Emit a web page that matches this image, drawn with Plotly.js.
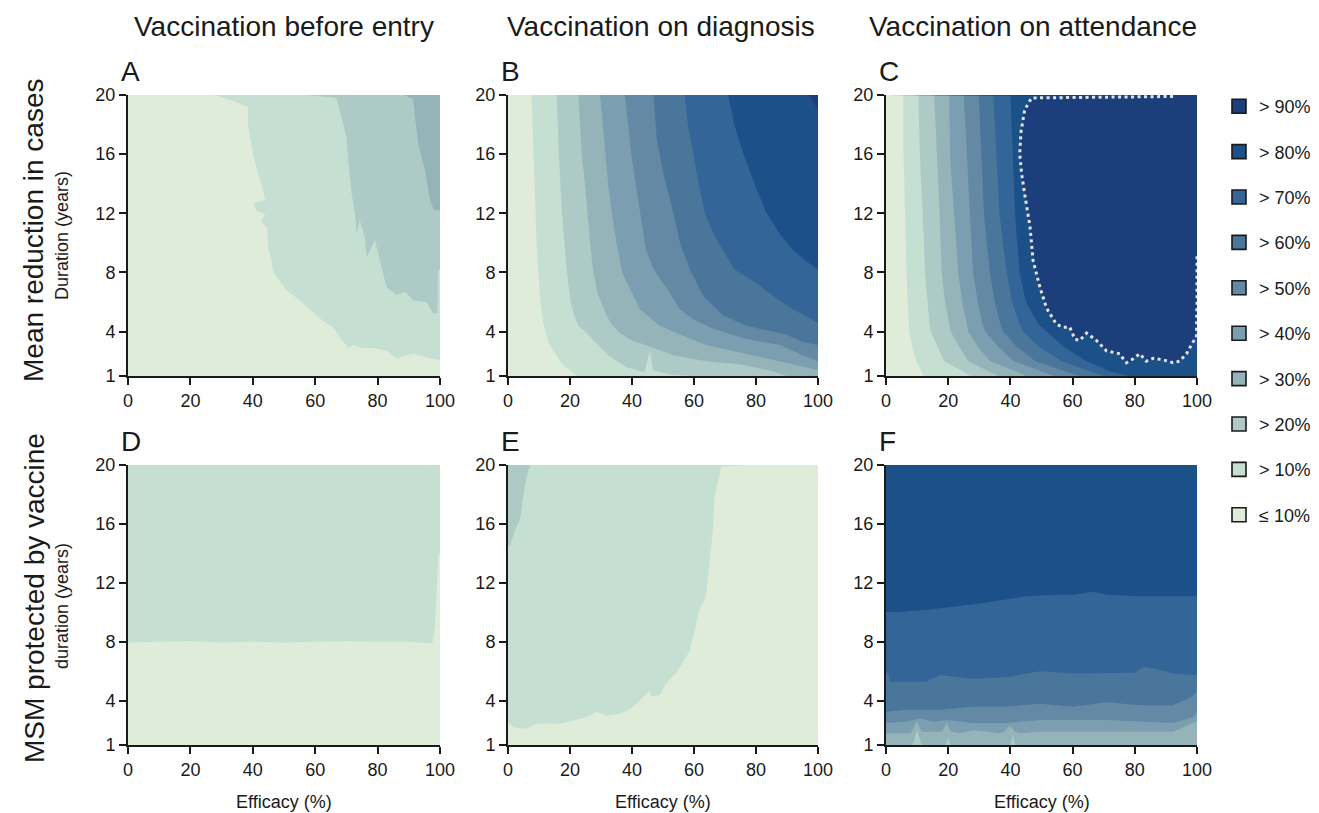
<!DOCTYPE html>
<html><head><meta charset="utf-8">
<script src="https://cdn.plot.ly/plotly-3.0.1.min.js"></script>
<style>html,body{margin:0;padding:0;background:#fff}#chart{width:1319px;height:813px}</style>
</head><body><div id="chart"></div>
<script>
// ---------- axes / labels ----------
const X_RANGE = [0, 100];
const Y_RANGE = [1, 20];
const EFF_TICKS = [0, 20, 40, 60, 80, 100];
const DUR_TICKS = [1, 4, 8, 12, 16, 20];
const COLUMN_TITLES = ['Vaccination before entry', 'Vaccination on diagnosis', 'Vaccination on attendance'];
const ROW_TITLES = ['Mean reduction in cases', 'MSM protected by vaccine'];
const DUR_TITLES = ['Duration (years)', 'duration (years)'];
const EFF_TITLE = 'Efficacy (%)';
const PANEL_LETTERS = ['A', 'B', 'C', 'D', 'E', 'F'];
const LEVEL_LABELS = ['≤ 10%', '> 10%', '> 20%', '> 30%', '> 40%', '> 50%', '> 60%', '> 70%', '> 80%', '> 90%'];
const LEVEL_COLORS = ['#deecd9', '#c6dfd3', '#adcac6', '#95b4ba', '#7b9fb0', '#6389a4', '#4b769b', '#336598', '#1c5089', '#1c3f7b'];

// ---------- panel A: contour boundaries (efficacy %, duration years) ----------
const A_levels = [10, 20, 30];
const A_eff = [
  [27.8, 33.7, 38.5, 38.5, 40.1, 41.7, 43.3, 43.9, 40.3, 41, 44, 42.5, 44.6, 44.9, 46, 46.5, 47.6, 50.8, 55.1, 58.8, 62.6, 65.8, 67.9, 70.6, 72.2, 75.4, 78.6, 82.9, 86.1, 91.4, 96.8, 100],
  [57.2, 63, 66.8, 68.4, 70, 70.6, 71.7, 72.7, 73.3, 74.3, 75.9, 76.5, 79.1, 80.7, 82.9, 86.1, 88.8, 91.4, 95.7, 97.9, 99.2, 99.4, 100],
  [88.5, 91.4, 92, 93, 95.2, 96.8, 98, 100]
];
const A_dur = [
  [20, 19.6, 19.2, 17.9, 16.0, 14.7, 13.6, 12.9, 12.7, 12.2, 11.9, 11.5, 11.0, 9.7, 8.8, 8.1, 7.7, 6.8, 6.1, 5.4, 4.7, 4.3, 3.6, 2.9, 3.1, 2.9, 2.9, 2.7, 2.2, 2.5, 2.2, 2.1],
  [20, 19.9, 19.8, 18.5, 17.2, 15.6, 13.3, 12.0, 10.6, 11.5, 10.4, 9.0, 10.2, 8.8, 7.0, 6.5, 6.7, 6.1, 6.0, 5.2, 5.3, 8.2, 8.2],
  [20, 19.7, 18.5, 16.7, 14.9, 12.9, 12.2, 12.2]
];

// ---------- panel B ----------
const B_levels = [10, 20, 30, 40, 50, 60, 70, 80, 90];
const B_eff = [
  [7.6, 7.9, 8.2, 8.5, 8.8, 9.2, 9.8, 10.5, 11.4, 13, 15.5, 18, 20, 22],
  [15.7, 16, 16.4, 16.9, 17.4, 18.2, 19, 20.2, 21.5, 22.7, 25, 28.6, 32.9, 38.3, 44, 45.8, 46.8, 52, 60],
  [22.7, 23.2, 23.8, 24.8, 25.6, 26.5, 27.5, 29, 31, 33, 36, 40, 43, 47, 53.3, 64, 74.7, 85.6, 90],
  [29.7, 30.5, 31.3, 32.3, 33.5, 35, 36.8, 39.5, 42.6, 49, 55.5, 64, 74.7, 83.3, 90.8, 100],
  [37.7, 38.8, 39.9, 41.5, 43.2, 44.5, 47, 51.3, 55.5, 60, 66.2, 76.9, 87.7, 95, 100],
  [46.9, 48, 50.1, 52.8, 55.5, 58.7, 63, 69.4, 76.9, 89.8, 95, 100],
  [57, 58, 59.8, 61.5, 63.5, 66.5, 69.4, 73, 80, 85.6, 92, 100],
  [71, 73, 76, 79.5, 83.4, 88, 92, 96, 100],
  [97, 98.5, 100]
];
const B_dur = [
  [20, 18, 16, 14, 12, 10, 8, 6, 4.6, 3.3, 2.4, 1.7, 1.4, 1.0],
  [20, 18, 16, 14, 12, 10, 8, 6, 5, 4.4, 4.0, 3.2, 2.3, 1.6, 1.25, 2.7, 1.4, 1.1, 1.0],
  [20, 18, 16, 14, 12, 10, 8, 6.5, 5.5, 4.6, 3.9, 3.4, 3.2, 2.9, 2.4, 2.0, 1.8, 1.3, 1.0],
  [20, 18, 16, 14, 12, 10, 8, 6.8, 5.5, 4.4, 3.8, 3.1, 2.6, 2.2, 1.8, 1.4],
  [20, 18, 15.8, 13.6, 11.3, 9.5, 8.2, 6.9, 5.5, 4.8, 4.2, 3.5, 3.1, 2.4, 2.0],
  [20, 17, 14.7, 12.5, 10, 8.2, 6.4, 5.1, 4.4, 3.8, 3.3, 3.1],
  [20, 18, 16, 14, 12, 10.5, 9.5, 8.2, 7.3, 6.4, 5.5, 4.6],
  [20, 18, 16, 14, 12, 10.5, 9.5, 8.8, 8.2],
  [20, 19.5, 19.0]
];

// ---------- panel C ----------
const C_levels = [10, 20, 30, 40, 50, 60, 70, 80, 90];
const C_band_dur = [20, 18, 16, 14, 12, 10, 8, 6, 4.5, 4, 3, 2, 1.3, 1];
const C_eff = [
  [5.6, 5.6, 5.6, 5.9, 6.1, 6.4, 6.6, 7.0, 7.3, 7.5, 8.5, 9.8, 11.5, 12],
  [10.4, 10.6, 10.9, 11.3, 11.8, 12.2, 12.5, 13.3, 14.0, 14.4, 16.5, 18.7, 24.8, 27],
  [15.5, 16, 16.3, 16.8, 17.2, 17.5, 17.9, 19, 20.2, 20.8, 23.5, 26.5, 33, 36],
  [20.3, 20.5, 20.6, 21.2, 21.8, 22.5, 23.2, 24.5, 26, 26.5, 29.5, 33.5, 42, 45],
  [25, 25.5, 25.9, 26.3, 26.8, 27.4, 28, 29.5, 31, 32, 36, 41, 50, 54],
  [29.8, 30.2, 30.7, 31.1, 31.5, 32.4, 33.4, 35, 36.8, 37.7, 42, 48, 58, 62],
  [34.5, 35, 35.5, 36, 36.5, 37.6, 38.8, 40.5, 43, 44.2, 49, 56.5, 66, 70],
  [40, 40.4, 40.9, 41.2, 41.5, 42.2, 43, 45, 49, 51.7, 57, 64.5, 72, 78]
];
// >90% region, outlined by the dotted line
const C_top_eff = [92.3, 46.8, 44.6, 43.4, 43, 43.6, 44.6, 46.3, 47.3, 49.5, 51.6, 54.8, 57, 59.1, 60.7, 62.3, 64.5, 67.7, 70.9, 75.2, 76.2, 77.3, 79, 81.6, 83.7, 85.9, 89, 92.3, 94.4, 96.6, 98.7, 99.8, 100, 100];
const C_top_dur = [19.9, 19.8, 19, 17.5, 16, 14.7, 13.3, 11.1, 8.8, 7.0, 5.6, 4.5, 4.3, 4.3, 3.5, 3.4, 3.9, 3.4, 2.7, 2.5, 2.2, 1.9, 2.1, 2.5, 2.0, 2.2, 2.1, 1.9, 2.0, 2.5, 3.3, 3.6, 6, 9.1];

// ---------- panel D ----------
const D_levels = [10];
const D_eff = [[0, 10, 20, 30, 40, 50, 60, 70, 80, 90, 97.5, 98.4, 98.9, 99.5, 100]];
const D_dur = [[7.95, 8.0, 8.05, 7.95, 8.0, 7.95, 8.0, 8.05, 8.0, 8.0, 7.9, 9.0, 11.5, 14.0, 14.0]];

// ---------- panel E ----------
const E_levels = [10, 20];
const E_eff = [
  [0, 0.6, 1.7, 6, 9.2, 12.4, 16.7, 19.9, 25.3, 28.5, 31.8, 36, 39.3, 42.5, 45.7, 46.2, 48.9, 51.1, 54.3, 56.4, 58.6, 60.2, 61.8, 63.9, 65, 66.1, 66.6, 68.2, 68.8, 78],
  [0, 0.6, 2.3, 3.9, 4.9, 6, 7.1]
];
const E_dur = [
  [2.5, 2.45, 2.2, 2.1, 2.45, 2.45, 2.45, 2.6, 2.9, 3.25, 3.0, 3.1, 3.45, 4.0, 4.7, 4.3, 4.4, 5.2, 5.9, 6.6, 7.4, 8.8, 10.2, 11.1, 13.3, 15.6, 17.9, 19.4, 19.9, 20],
  [14.6, 14.5, 15.6, 16.3, 17.9, 19.2, 20]
];

// ---------- panel F ----------
const F_levels = [20, 30, 40, 50, 60, 70, 80];
const F_eff = [
  [0, 100],
  [0, 8.5, 10, 11.5, 19.2, 20, 20.8, 40, 40.8, 41.6, 100],
  [0, 8, 9.9, 11.5, 13, 18, 19.5, 21, 23.8, 28, 33, 36.6, 38, 39.8, 41.5, 43, 49.5, 60.2, 70.9, 81.6, 92.3, 98.7, 100],
  [0, 6.6, 10.9, 15, 19.5, 28, 38.8, 49.5, 60.2, 70.9, 81.6, 92.3, 98.7, 100],
  [0, 6.6, 17.3, 28, 38.8, 49.5, 60.2, 70.9, 81.6, 92.3, 98.7, 100],
  [0, 0.8, 1.3, 13, 17.3, 28, 38.8, 49.5, 60.2, 70.9, 80, 82.7, 86, 92.3, 100],
  [0, 3.4, 14.1, 22.7, 30.2, 36.6, 45.2, 54.8, 60.2, 66.6, 70.9, 81.6, 92.3, 100]
];
const F_dur = [
  [1, 1],
  [1, 1, 2.0, 1, 1, 1.5, 1, 1, 1.7, 1, 1],
  [1.8, 1.8, 2.6, 1.9, 1.9, 1.9, 2.5, 1.9, 1.8, 2.0, 1.9, 1.8, 1.9, 2.3, 1.9, 1.8, 1.9, 1.9, 1.9, 1.9, 1.9, 2.5, 2.6],
  [2.5, 2.6, 2.8, 2.6, 2.7, 2.5, 2.5, 2.7, 2.7, 2.7, 2.6, 2.5, 2.9, 3.2],
  [3.25, 3.4, 3.4, 3.6, 3.6, 3.8, 3.6, 3.9, 3.7, 3.7, 4.3, 4.7],
  [5.9, 5.9, 5.3, 5.3, 5.75, 5.5, 5.6, 6.0, 5.85, 5.85, 5.9, 6.3, 6.2, 5.85, 5.75],
  [10.05, 10.0, 10.2, 10.4, 10.6, 10.8, 11.1, 11.2, 11.2, 11.4, 11.2, 11.1, 11.1, 11.1]
];

// ---------- build ----------
const CORNERS = {
  BL: [X_RANGE[0], Y_RANGE[0]], BR: [X_RANGE[1], Y_RANGE[0]],
  TR: [X_RANGE[1], Y_RANGE[1]], TL: [X_RANGE[0], Y_RANGE[1]]
};
const UPPER_RIGHT = ['BR', 'TR', 'TL'];
const UPPER_LEFT = ['TL'];

const C_all_eff = C_eff.map(e => e).concat([C_top_eff]);
const C_all_dur = C_eff.map(() => C_band_dur).concat([C_top_dur]);

const PANELS = [
  { levels: A_levels, eff: A_eff, dur: A_dur, close: UPPER_RIGHT },
  { levels: B_levels, eff: B_eff, dur: B_dur, close: UPPER_RIGHT },
  { levels: C_levels, eff: C_all_eff, dur: C_all_dur, close: UPPER_RIGHT, dotted: [C_top_eff, C_top_dur] },
  { levels: D_levels, eff: D_eff, dur: D_dur, close: UPPER_RIGHT },
  { levels: E_levels, eff: E_eff, dur: E_dur, close: UPPER_LEFT },
  { levels: F_levels, eff: F_eff, dur: F_dur, close: UPPER_RIGHT }
];

const W = 1319, H = 813;
const COL_PX = [[128, 440], [508, 818], [886, 1197]];
const ROW_PX = [[95, 376], [465, 745]];
const FONT = 'Liberation Sans, Arial, Helvetica, sans-serif';
const INK = '#1a1a1a';

const traces = [];
const layout = {
  width: W, height: H, margin: { l: 0, r: 0, t: 0, b: 0 },
  paper_bgcolor: '#ffffff', plot_bgcolor: '#ffffff',
  font: { family: FONT, color: INK, size: 18 },
  showlegend: true,
  legend: { x: 1219 / W, y: 1 - 88 / H, xanchor: 'left', yanchor: 'top',
            font: { size: 18, color: INK }, tracegroupgap: 19, itemwidth: 30,
            traceorder: 'grouped', bgcolor: 'rgba(0,0,0,0)' },
  annotations: []
};

function poly(eff, dur, close) {
  const x = eff.slice(), y = dur.slice();
  close.forEach(c => { x.push(CORNERS[c][0]); y.push(CORNERS[c][1]); });
  return { x, y };
}

PANELS.forEach((p, i) => {
  const col = i % 3, row = Math.floor(i / 3);
  const sx = i === 0 ? '' : String(i + 1);
  const xa = 'x' + sx, ya = 'y' + sx;
  layout['xaxis' + sx] = {
    domain: [COL_PX[col][0] / W, COL_PX[col][1] / W], anchor: ya,
    range: X_RANGE, tickvals: EFF_TICKS, ticks: 'outside', ticklen: 7, tickwidth: 2, tickcolor: INK,
    showline: true, linewidth: 2, linecolor: INK, showgrid: false, zeroline: false,
    tickfont: { size: 18, color: INK, family: FONT }, fixedrange: true
  };
  layout['yaxis' + sx] = {
    domain: [1 - ROW_PX[row][1] / H, 1 - ROW_PX[row][0] / H], anchor: xa,
    range: Y_RANGE, tickvals: DUR_TICKS, ticks: 'outside', ticklen: 7, tickwidth: 2, tickcolor: INK,
    showline: true, linewidth: 2, linecolor: INK, showgrid: false, zeroline: false,
    tickfont: { size: 18, color: INK, family: FONT }, fixedrange: true
  };
  // base (<= 10%) region
  const base = poly([], [], ['BL', 'BR', 'TR', 'TL']);
  traces.push({ type: 'scatter', mode: 'lines', x: base.x, y: base.y, fill: 'toself',
    fillcolor: LEVEL_COLORS[0], line: { width: 0 }, xaxis: xa, yaxis: ya, showlegend: false, hoverinfo: 'skip' });
  p.levels.forEach((lv, j) => {
    const pg = poly(p.eff[j], p.dur[j], p.close);
    traces.push({ type: 'scatter', mode: 'lines', x: pg.x, y: pg.y, fill: 'toself',
      fillcolor: LEVEL_COLORS[lv / 10], line: { width: 0, color: LEVEL_COLORS[lv / 10] },
      xaxis: xa, yaxis: ya, showlegend: false, hoverinfo: 'skip' });
  });
  if (p.dotted) {
    traces.push({ type: 'scatter', mode: 'lines', x: p.dotted[0], y: p.dotted[1],
      line: { color: '#e4e4e4', width: 3, dash: '3px,3.5px' },
      xaxis: xa, yaxis: ya, showlegend: false, hoverinfo: 'skip', cliponaxis: false });
  }
  // panel letter
  layout.annotations.push({ xref: 'paper', yref: 'paper', x: (COL_PX[col][0] - 9) / W, y: 1 - (ROW_PX[row][0] - 24) / H,
    xanchor: 'left', yanchor: 'middle', text: PANEL_LETTERS[i], showarrow: false, font: { size: 28, color: INK } });
  if (row === 1) {
    layout.annotations.push({ xref: 'paper', yref: 'paper', x: (COL_PX[col][0] + COL_PX[col][1]) / 2 / W, y: 1 - 802 / H,
      xanchor: 'center', yanchor: 'middle', text: EFF_TITLE, showarrow: false, font: { size: 18, color: INK } });
  }
});

// column titles
const COL_TITLE_X = [284, 661, 1033];
COLUMN_TITLES.forEach((t, c) => layout.annotations.push({ xref: 'paper', yref: 'paper', x: COL_TITLE_X[c] / W, y: 1 - 27 / H,
  xanchor: 'center', yanchor: 'middle', text: t, showarrow: false, font: { size: 28, color: INK } }));
// row titles
const ROW_TITLE_Y = [230, 598];
const DUR_TITLE_Y = [236, 606];
ROW_TITLES.forEach((t, r) => {
  layout.annotations.push({ xref: 'paper', yref: 'paper', x: 34 / W, y: 1 - ROW_TITLE_Y[r] / H, textangle: -90,
    xanchor: 'center', yanchor: 'middle', text: t, showarrow: false, font: { size: 28, color: INK } });
  layout.annotations.push({ xref: 'paper', yref: 'paper', x: 62 / W, y: 1 - DUR_TITLE_Y[r] / H, textangle: -90,
    xanchor: 'center', yanchor: 'middle', text: DUR_TITLES[r], showarrow: false, font: { size: 18, color: INK } });
});

// legend entries (top: > 90%)
for (let k = LEVEL_LABELS.length - 1; k >= 0; k--) {
  traces.push({ type: 'scatter', mode: 'markers', x: [null], y: [null], name: LEVEL_LABELS[k],
    legendgroup: 'lv' + k, showlegend: true, hoverinfo: 'skip',
    marker: { symbol: 'square', size: 14, color: LEVEL_COLORS[k], line: { color: INK, width: 1.6 } } });
}

Plotly.newPlot('chart', traces, layout, { staticPlot: true, displayModeBar: false });
</script></body></html>
